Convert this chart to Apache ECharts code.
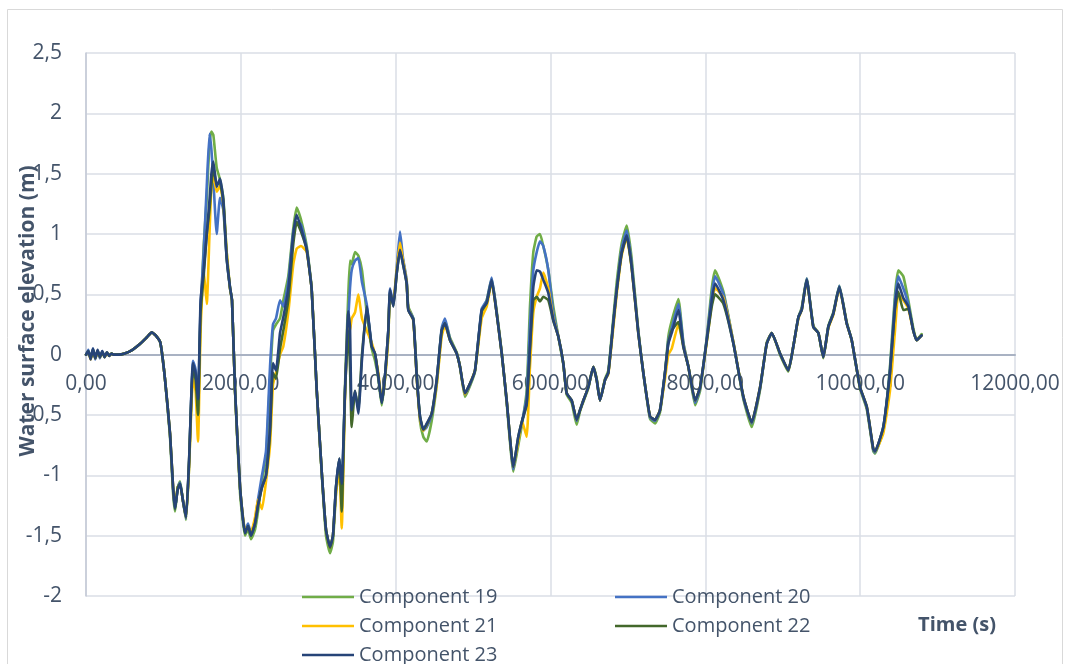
<!DOCTYPE html>
<html>
<head>
<meta charset="utf-8">
<title>Water surface elevation</title>
<script src="https://cdn.jsdelivr.net/npm/echarts@6.0.0/dist/echarts.min.js"></script>
<style>
  html, body { margin: 0; padding: 0; background: #ffffff; }
  #chart { width: 1070px; height: 664px; }
</style>
</head>
<body>
<div id="chart"></div>
<script>
// Sample times (s)
const timeSec = [
  0, 30, 60, 90, 120, 150, 180, 210, 240, 270,
  300, 330, 360, 420, 500, 600, 700, 780, 850, 900,
  960, 1020, 1085, 1125, 1150, 1185, 1215, 1250, 1292, 1330,
  1382, 1415, 1447, 1480, 1520, 1560, 1595, 1620, 1645, 1688,
  1731, 1774, 1817, 1860, 1886, 1925, 1990, 2054, 2093, 2131,
  2183, 2222, 2273, 2325, 2377, 2415, 2454, 2506, 2549, 2613,
  2678, 2722, 2777, 2851, 2915, 2980, 3048, 3100, 3152, 3190,
  3229, 3273, 3303, 3346, 3388, 3410, 3432, 3475, 3518, 3565,
  3626, 3690, 3733, 3776, 3820, 3862, 3905, 3927, 3970, 4013,
  4056, 4095, 4142, 4163, 4228, 4272, 4314, 4357, 4401, 4465,
  4530, 4594, 4637, 4702, 4788, 4831, 4895, 4960, 5025, 5111,
  5176, 5240, 5305, 5370, 5434, 5520, 5584, 5632, 5692, 5735,
  5778, 5822, 5864, 5907, 5972, 6036, 6101, 6165, 6209, 6274,
  6338, 6381, 6424, 6488, 6553, 6597, 6639, 6704, 6747, 6811,
  6855, 6919, 6984, 7048, 7134, 7199, 7285, 7350, 7414, 7479,
  7522, 7566, 7652, 7717, 7781, 7868, 7932, 8018, 8083, 8126,
  8234, 8363, 8492, 8599, 8707, 8793, 8858, 8965, 9072, 9137,
  9202, 9245, 9309, 9395, 9460, 9524, 9589, 9653, 9731, 9826,
  9891, 9998, 10085, 10169, 10192, 10299, 10385, 10450, 10493, 10557,
  10622, 10686, 10729, 10794
];

// Water surface elevation (m) per component
const component19 = [
  0, 0.02, -0.03, 0.04, -0.02, 0.03, -0.01, 0.02, -0.01, 0.01,
  0.0, 0.01, 0.0, 0.0, 0.01, 0.04, 0.09, 0.14, 0.185, 0.16,
  0.1, -0.2, -0.68, -1.15, -1.3, -1.1, -1.05, -1.2, -1.37, -0.95,
  -0.15, -0.2, -0.45, 0.3, 0.9, 1.3, 1.75, 1.85, 1.82, 1.55,
  1.45, 1.3, 0.85, 0.55, 0.45, -0.3, -1.15, -1.5, -1.45, -1.53,
  -1.45, -1.3, -1.05, -0.85, -0.2, 0.2, 0.25, 0.3, 0.45, 0.65,
  1.05, 1.22, 1.12, 0.9, 0.55, -0.3, -1.02, -1.5, -1.645, -1.55,
  -1.15, -0.9, -1.2, -0.25, 0.5, 0.78, 0.75, 0.85, 0.82, 0.7,
  0.35, 0.05, -0.05, -0.2, -0.42, -0.2, 0.15, 0.5, 0.42, 0.68,
  0.9, 0.78, 0.6, 0.4, 0.3, -0.15, -0.55, -0.68, -0.72, -0.55,
  -0.25, 0.18, 0.28, 0.14, 0.02, -0.1, -0.35, -0.26, -0.14, 0.35,
  0.45, 0.63, 0.36, 0.02, -0.4, -0.97, -0.75, -0.58, -0.3, 0.4,
  0.85, 0.98, 1.0, 0.9, 0.7, 0.4, 0.15, -0.08, -0.33, -0.4,
  -0.58, -0.47, -0.39, -0.28, -0.1, -0.2, -0.38, -0.2, -0.13, 0.3,
  0.6, 0.92, 1.07, 0.8, 0.2, -0.15, -0.53, -0.57, -0.48, -0.15,
  0.15, 0.28, 0.46, 0.1, -0.1, -0.42, -0.3, 0.14, 0.55, 0.7,
  0.52, 0.1, -0.37, -0.6, -0.29, 0.1, 0.18, 0.0, -0.14, 0.07,
  0.31, 0.39, 0.63, 0.24, 0.18, -0.03, 0.24, 0.35, 0.57, 0.27,
  0.12, -0.28, -0.45, -0.8, -0.82, -0.62, -0.1, 0.5, 0.7, 0.65,
  0.45, 0.22, 0.12, 0.17
];

const component20 = [
  0, 0.04, -0.03, 0.05, -0.04, 0.03, -0.03, 0.03, -0.02, 0.01,
  -0.01, 0.01, 0.0, 0.0, 0.01, 0.04, 0.09, 0.14, 0.185, 0.16,
  0.1, -0.2, -0.66, -1.12, -1.28, -1.1, -1.06, -1.2, -1.36, -0.92,
  -0.05, -0.12, -0.35, 0.4, 0.85, 1.4, 1.83, 1.7, 1.45, 1.0,
  1.3, 1.2, 0.8, 0.55, 0.45, -0.29, -1.1, -1.46, -1.4, -1.48,
  -1.38, -1.2, -1.0, -0.8, -0.1, 0.25, 0.3, 0.45, 0.4, 0.6,
  1.02, 1.1, 1.08, 0.88, 0.55, -0.29, -1.0, -1.45, -1.6, -1.5,
  -1.1, -0.87, -1.1, -0.3, 0.3, 0.55, 0.7, 0.78, 0.8, 0.6,
  0.42, 0.08, 0.0, -0.18, -0.4, -0.18, 0.2, 0.55, 0.42, 0.72,
  1.02, 0.8, 0.62, 0.38, 0.3, -0.17, -0.52, -0.63, -0.6, -0.5,
  -0.22, 0.22, 0.3, 0.13, 0.01, -0.1, -0.33, -0.25, -0.13, 0.38,
  0.45, 0.64, 0.35, 0.01, -0.38, -0.95, -0.7, -0.56, -0.35, 0.25,
  0.7, 0.85, 0.94, 0.9, 0.7, 0.35, 0.15, -0.07, -0.32, -0.38,
  -0.55, -0.46, -0.38, -0.27, -0.1, -0.21, -0.38, -0.21, -0.15, 0.27,
  0.55, 0.88, 1.03, 0.76, 0.19, -0.15, -0.52, -0.55, -0.46, -0.15,
  0.12, 0.22, 0.42, 0.09, -0.1, -0.4, -0.28, 0.13, 0.5, 0.65,
  0.5, 0.1, -0.36, -0.57, -0.28, 0.09, 0.18, 0.01, -0.13, 0.07,
  0.31, 0.38, 0.63, 0.23, 0.18, -0.02, 0.23, 0.34, 0.57, 0.26,
  0.12, -0.27, -0.44, -0.79, -0.81, -0.6, -0.12, 0.45, 0.65, 0.55,
  0.42, 0.2, 0.12, 0.16
];

const component21 = [
  0, 0.02, -0.04, 0.03, -0.03, 0.02, -0.02, 0.02, -0.02, 0.01,
  -0.01, 0.01, 0.0, 0.0, 0.01, 0.04, 0.09, 0.14, 0.185, 0.16,
  0.1, -0.2, -0.65, -1.1, -1.25, -1.1, -1.08, -1.2, -1.35, -0.95,
  -0.2, -0.3, -0.72, 0.2, 0.7, 0.42, 1.0, 1.4, 1.48, 1.35,
  1.4, 1.25, 0.85, 0.55, 0.45, -0.3, -1.1, -1.45, -1.45, -1.47,
  -1.35, -1.2, -1.28, -1.05, -0.75, -0.25, -0.15, 0.0, 0.07, 0.35,
  0.75, 0.88, 0.9, 0.85, 0.54, -0.29, -1.0, -1.45, -1.6, -1.5,
  -1.15, -0.95, -1.44, -0.35, 0.3, 0.2, 0.3, 0.35, 0.5, 0.3,
  0.2, 0.1, 0.0, -0.15, -0.38, -0.2, 0.15, 0.5, 0.45, 0.7,
  0.93, 0.78, 0.6, 0.38, 0.28, -0.2, -0.53, -0.63, -0.58, -0.49,
  -0.25, 0.15, 0.24, 0.12, 0.01, -0.1, -0.33, -0.24, -0.13, 0.3,
  0.4, 0.6, 0.34, 0.01, -0.38, -0.93, -0.72, -0.55, -0.68, -0.1,
  0.35, 0.48, 0.55, 0.68, 0.55, 0.3, 0.15, -0.07, -0.32, -0.38,
  -0.54, -0.46, -0.38, -0.27, -0.1, -0.21, -0.38, -0.21, -0.16, 0.22,
  0.5, 0.82, 0.97, 0.72, 0.18, -0.15, -0.51, -0.54, -0.46, -0.2,
  0.0, 0.05, 0.25, 0.07, -0.1, -0.38, -0.27, 0.1, 0.42, 0.55,
  0.47, 0.1, -0.35, -0.56, -0.27, 0.09, 0.18, 0.01, -0.13, 0.07,
  0.3, 0.37, 0.61, 0.23, 0.18, -0.02, 0.22, 0.33, 0.55, 0.26,
  0.12, -0.27, -0.43, -0.78, -0.8, -0.65, -0.3, 0.2, 0.5, 0.45,
  0.38, 0.2, 0.12, 0.16
];

const component22 = [
  0, 0.03, -0.03, 0.04, -0.03, 0.03, -0.02, 0.02, -0.02, 0.02,
  -0.01, 0.01, 0.0, 0.0, 0.01, 0.04, 0.09, 0.14, 0.185, 0.16,
  0.1, -0.2, -0.65, -1.1, -1.28, -1.1, -1.07, -1.2, -1.35, -0.9,
  -0.1, -0.2, -0.5, 0.35, 0.65, 1.0, 1.2, 1.4, 1.55, 1.42,
  1.42, 1.26, 0.8, 0.56, 0.45, -0.29, -1.1, -1.48, -1.42, -1.5,
  -1.4, -1.25, -1.1, -1.0, -0.65, -0.15, -0.2, 0.05, 0.2, 0.45,
  0.92, 1.1, 1.02, 0.87, 0.54, -0.29, -1.0, -1.45, -1.6, -1.5,
  -1.1, -0.86, -1.3, -0.3, 0.2, -0.1, -0.6, -0.3, -0.45, 0.0,
  0.38, 0.07, 0.01, -0.18, -0.4, -0.18, 0.2, 0.52, 0.4, 0.67,
  0.86, 0.75, 0.59, 0.37, 0.29, -0.18, -0.51, -0.62, -0.58, -0.49,
  -0.21, 0.2, 0.26, 0.12, 0.01, -0.1, -0.32, -0.24, -0.13, 0.36,
  0.43, 0.61, 0.34, 0.01, -0.38, -0.93, -0.68, -0.55, -0.42, 0.05,
  0.45, 0.48, 0.44, 0.48, 0.45, 0.28, 0.15, -0.07, -0.32, -0.38,
  -0.54, -0.46, -0.38, -0.27, -0.1, -0.21, -0.38, -0.21, -0.15, 0.26,
  0.53, 0.84, 0.98, 0.73, 0.18, -0.15, -0.51, -0.54, -0.46, -0.15,
  0.1, 0.2, 0.27, 0.06, -0.1, -0.38, -0.27, 0.11, 0.4, 0.5,
  0.42, 0.09, -0.35, -0.56, -0.27, 0.09, 0.18, 0.01, -0.13, 0.07,
  0.31, 0.37, 0.62, 0.23, 0.18, -0.02, 0.23, 0.34, 0.56, 0.26,
  0.12, -0.27, -0.43, -0.78, -0.8, -0.6, -0.15, 0.38, 0.52, 0.37,
  0.38, 0.2, 0.12, 0.16
];

const component23 = [
  0, 0.03, -0.04, 0.05, -0.03, 0.04, -0.02, 0.03, -0.02, 0.02,
  -0.01, 0.01, 0.0, 0.0, 0.01, 0.04, 0.09, 0.14, 0.185, 0.16,
  0.1, -0.2, -0.65, -1.1, -1.27, -1.12, -1.07, -1.2, -1.35, -0.9,
  -0.07, -0.15, -0.37, 0.45, 0.7, 1.0, 1.28, 1.5, 1.6, 1.39,
  1.46, 1.28, 0.81, 0.56, 0.45, -0.29, -1.1, -1.48, -1.42, -1.5,
  -1.4, -1.25, -1.1, -1.0, -0.6, -0.07, -0.13, 0.18, 0.31, 0.54,
  1.0, 1.16, 1.05, 0.87, 0.54, -0.29, -1.0, -1.45, -1.59, -1.5,
  -1.1, -0.86, -1.07, -0.3, 0.36, 0.23, -0.46, -0.3, -0.49, -0.04,
  0.4, 0.07, 0.01, -0.18, -0.4, -0.18, 0.2, 0.54, 0.4, 0.67,
  0.87, 0.75, 0.59, 0.37, 0.29, -0.18, -0.51, -0.62, -0.57, -0.49,
  -0.21, 0.2, 0.26, 0.12, 0.01, -0.1, -0.32, -0.24, -0.13, 0.37,
  0.43, 0.62, 0.34, 0.01, -0.38, -0.93, -0.68, -0.55, -0.4, 0.07,
  0.56, 0.7, 0.69, 0.62, 0.51, 0.29, 0.15, -0.07, -0.32, -0.38,
  -0.54, -0.46, -0.38, -0.27, -0.1, -0.21, -0.38, -0.21, -0.15, 0.26,
  0.53, 0.84, 0.99, 0.73, 0.18, -0.15, -0.51, -0.54, -0.46, -0.15,
  0.09, 0.18, 0.37, 0.07, -0.1, -0.38, -0.27, 0.12, 0.45, 0.59,
  0.45, 0.09, -0.35, -0.56, -0.27, 0.09, 0.18, 0.01, -0.13, 0.07,
  0.31, 0.37, 0.62, 0.23, 0.18, -0.02, 0.23, 0.34, 0.56, 0.26,
  0.12, -0.27, -0.43, -0.78, -0.8, -0.6, -0.15, 0.4, 0.59, 0.47,
  0.4, 0.2, 0.12, 0.16
];

const seriesNames = ['Component 19', 'Component 20', 'Component 21', 'Component 22', 'Component 23'];
const seriesValues = [component19, component20, component21, component22, component23];
const seriesColors = ['#70AD47', '#4472C4', '#FFC000', '#43682B', '#264478'];

// Axis ticks and their printed labels (decimal comma)
const xTickValues = [0, 2000, 4000, 6000, 8000, 10000, 12000];
const xTickLabels = ['0,00', '2000,00', '4000,00', '6000,00', '8000,00', '10000,00', '12000,00'];
const yTickValues = [-2, -1.5, -1, -0.5, 0, 0.5, 1, 1.5, 2, 2.5];
const yTickLabels = ['-2', '-1,5', '-1', '-0,5', '0', '0,5', '1', '1,5', '2', '2,5'];

const xTitle = 'Time (s)';
const yTitle = 'Water surface elevation (m)';

const TEXT = '#44546A';
const FONT = '"Open Sans", "Liberation Sans", sans-serif';
const GRID_LINE = '#dadee6';

// Plot frame and y range; the time axis sits on the y = 0 line
const GRID = { left: 86, right: 55, top: 53, bottom: 68 };
const Y_MIN = yTickValues[0];
const Y_MAX = yTickValues[yTickValues.length - 1];
const CHART_H = 664;
const plotH = CHART_H - GRID.top - GRID.bottom;
const zeroOffset = -plotH * (0 - Y_MIN) / (Y_MAX - Y_MIN);

function tickLabel(values, labels) {
  return function (v) {
    for (let i = 0; i < values.length; i++) {
      if (Math.abs(values[i] - v) < 1e-9) return labels[i];
    }
    return '';
  };
}

const series = seriesNames.map((name, k) => ({
  name: name,
  type: 'line',
  data: timeSec.map((t, i) => [t, seriesValues[k][i]]),
  showSymbol: false,
  symbol: 'none',
  smooth: 0.15,
  lineStyle: { color: seriesColors[k], width: 2.6, join: 'round', cap: 'round' },
  itemStyle: { color: seriesColors[k] },
  emphasis: { disabled: true },
  z: 2 + k
}));

const legendCommon = {
  orient: 'horizontal',
  left: 302,
  padding: 0,
  itemWidth: 52,
  itemHeight: 2.5,
  itemGap: 106,
  icon: 'rect',
  selectedMode: false,
  textStyle: { color: TEXT, fontFamily: FONT, fontSize: 20, width: 150, lineHeight: 24 }
};

const chart = echarts.init(document.getElementById('chart'), null, { renderer: 'canvas' });
chart.setOption({
  animation: false,
  backgroundColor: '#ffffff',
  grid: Object.assign({ containLabel: false }, GRID),
  xAxis: {
    type: 'value',
    min: xTickValues[0],
    max: xTickValues[xTickValues.length - 1],
    interval: 2000,
    position: 'bottom',
    offset: zeroOffset,
    axisLine: { show: true, onZero: false, lineStyle: { color: '#a9b2c3', width: 2 } },
    axisTick: { show: false },
    axisLabel: {
      color: TEXT, fontFamily: FONT, fontSize: 21, margin: 19,
      formatter: tickLabel(xTickValues, xTickLabels)
    },
    splitLine: { show: true, lineStyle: { color: GRID_LINE, width: 1.5 } }
  },
  yAxis: {
    type: 'value',
    min: Y_MIN,
    max: Y_MAX,
    interval: 0.5,
    axisLine: { show: true, onZero: false, lineStyle: { color: '#c3c9d6', width: 1.5 } },
    axisTick: { show: false },
    axisLabel: {
      color: TEXT, fontFamily: FONT, fontSize: 21, margin: 24,
      formatter: tickLabel(yTickValues, yTickLabels)
    },
    splitLine: { show: true, lineStyle: { color: GRID_LINE, width: 1.5 } }
  },
  legend: [
    Object.assign({}, legendCommon, { top: 585, data: [seriesNames[0], seriesNames[1]] }),
    Object.assign({}, legendCommon, { top: 614, data: [seriesNames[2], seriesNames[3]] }),
    Object.assign({}, legendCommon, { top: 643, data: [seriesNames[4]] })
  ],
  graphic: [
    {
      type: 'rect',
      silent: true,
      shape: { x: 7.5, y: 9.5, width: 1055, height: 700 },
      style: { fill: 'none', stroke: '#d9d9d9', lineWidth: 1 },
      z: -10
    },
    {
      type: 'text',
      silent: true,
      x: 957,
      y: 625,
      style: {
        text: xTitle, fill: TEXT, font: 'bold 20px ' + FONT,
        textAlign: 'center', textVerticalAlign: 'middle'
      }
    },
    {
      type: 'text',
      silent: true,
      x: 28,
      y: 311,
      rotation: Math.PI / 2,
      style: {
        text: yTitle, fill: TEXT, font: 'bold 21px ' + FONT,
        textAlign: 'center', textVerticalAlign: 'middle'
      }
    }
  ],
  series: series
});
</script>
</body>
</html>
